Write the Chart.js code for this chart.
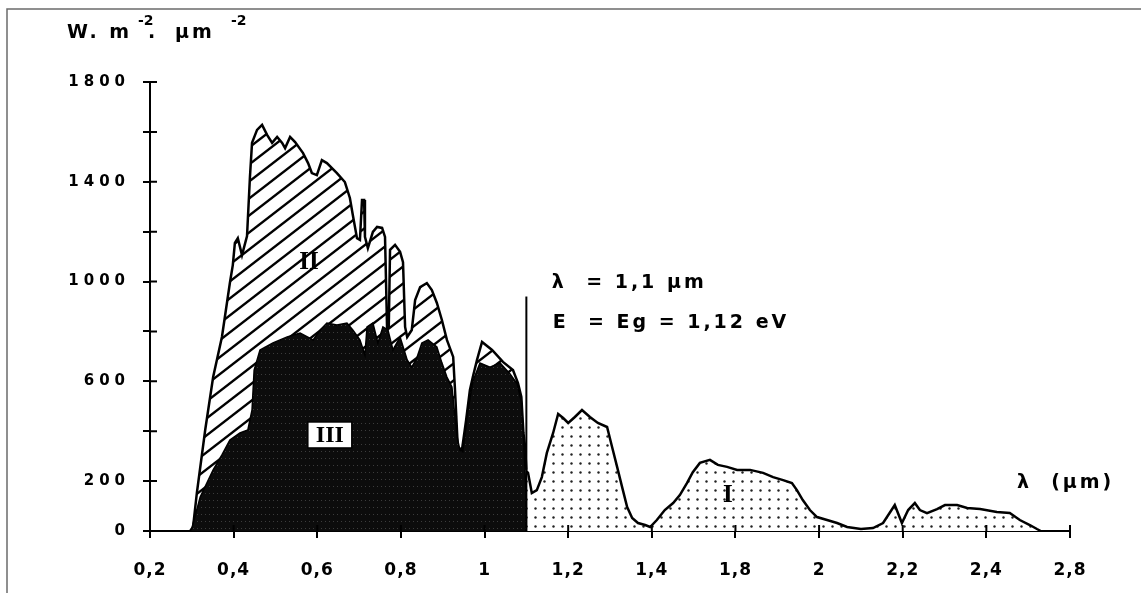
<!DOCTYPE html>
<html>
<head>
<meta charset="utf-8">
<script src="https://cdn.jsdelivr.net/npm/chart.js@4.4.1/dist/chart.umd.min.js"></script>
<style>
html, body { margin: 0; padding: 0; background: #fff; }
#wrap { width: 1141px; height: 599px; }
</style>
</head>
<body>
<div id="wrap"><canvas id="spectre" width="1141" height="599"></canvas></div>
<script>
// tick labels as printed on the figure
const xLabels = ['0,2', '0,4', '0,6', '0,8', '1', '1,2', '1,4', '1,8', '2', '2,2', '2,4', '2,8'];
const yLabelled = [0, 200, 600, 1000, 1400, 1800];

// zone II : spectre, partie hachuree (lambda < 1,1)
const lambdaII = [0.296, 0.303, 0.312, 0.332, 0.351, 0.372, 0.391, 0.398, 0.403, 0.410, 0.420, 0.432, 0.439, 0.444, 0.456, 0.468,
  0.480, 0.492, 0.504, 0.516, 0.523, 0.535, 0.547, 0.566, 0.578, 0.587, 0.599, 0.611, 0.623, 0.647, 0.666, 0.678,
  0.685, 0.695, 0.702, 0.707, 0.712, 0.714, 0.721, 0.733, 0.743, 0.755, 0.762, 0.767, 0.771, 0.774, 0.786, 0.798,
  0.805, 0.810, 0.815, 0.826, 0.834, 0.846, 0.862, 0.874, 0.886, 0.898, 0.910, 0.925, 0.929, 0.936, 0.946, 0.956,
  0.965, 0.972, 0.982, 0.994, 1.018, 1.044, 1.068, 1.080, 1.088, 1.093, 1.097, 1.100];
const fluxII = [0, 16, 152, 405, 617, 778, 994, 1066, 1155, 1174, 1106, 1182, 1419, 1556, 1608, 1628,
  1588, 1556, 1580, 1556, 1535, 1580, 1559, 1515, 1475, 1435, 1427, 1487, 1475, 1435, 1399, 1335,
  1267, 1174, 1167, 1327, 1327, 1179, 1134, 1199, 1219, 1215, 1179, 806, 818, 1127, 1147, 1119,
  1078, 818, 778, 806, 926, 978, 994, 966, 914, 846, 766, 698, 577, 337, 325, 445,
  565, 617, 686, 758, 726, 678, 645, 593, 537, 393, 337, 245];

// zone III : partie utile (noir)
const lambdaIII = [0.296, 0.300, 0.320, 0.351, 0.372, 0.391, 0.415, 0.434, 0.444, 0.449, 0.463, 0.494, 0.528, 0.559, 0.590, 0.607,
  0.623, 0.647, 0.671, 0.685, 0.702, 0.714, 0.719, 0.733, 0.745, 0.757, 0.769, 0.781, 0.798, 0.815, 0.826, 0.838,
  0.850, 0.865, 0.886, 0.898, 0.910, 0.922, 0.934, 0.941, 0.948, 0.960, 0.972, 0.989, 1.013, 1.037, 1.061, 1.078,
  1.088, 1.093, 1.100, 1.100];
const fluxIII = [0, 10, 136, 245, 305, 365, 393, 405, 485, 645, 726, 754, 778, 794, 766, 806,
  834, 826, 834, 806, 766, 706, 818, 834, 754, 818, 806, 726, 778, 686, 657, 694,
  754, 766, 738, 674, 617, 577, 380, 325, 318, 480, 600, 674, 657, 674, 630, 590,
  520, 380, 120, 0];

// zone I : pointilles (lambda > 1,1)
const lambdaI = [1.100, 1.104, 1.113, 1.125, 1.137, 1.149, 1.164, 1.176, 1.188, 1.200, 1.216, 1.233, 1.252, 1.271, 1.293, 1.305,
  1.317, 1.329, 1.341, 1.353, 1.367, 1.384, 1.396, 1.412, 1.431, 1.451, 1.467, 1.484, 1.498, 1.515, 1.539, 1.558,
  1.580, 1.604, 1.635, 1.666, 1.690, 1.714, 1.735, 1.747, 1.761, 1.778, 1.795, 1.819, 1.843, 1.867, 1.900, 1.929,
  1.953, 1.981, 1.998, 2.013, 2.029, 2.041, 2.058, 2.082, 2.101, 2.130, 2.154, 2.185, 2.225, 2.256, 2.280, 2.304,
  2.321, 2.330];
const fluxI = [240, 233, 152, 164, 216, 313, 393, 469, 453, 433, 457, 485, 457, 433, 417, 337,
  257, 176, 96, 52, 32, 24, 16, 44, 84, 112, 144, 192, 236, 273, 285, 265,
  257, 245, 245, 233, 216, 204, 192, 164, 124, 84, 56, 44, 32, 16, 8, 12,
  32, 104, 32, 84, 112, 84, 72, 88, 104, 104, 92, 88, 76, 72, 44, 24,
  8, 0];

// seuil lambda = 1,1 um
const lambdaGap = 1.1;
const gapTop = 940;

function pts(xs, ys) {
  return xs.map(function (x, i) { return { x: x, y: ys[i] }; });
}

const canvas = document.getElementById('spectre');
const ctx = canvas.getContext('2d');

function hatchPattern() {
  const c = document.createElement('canvas');
  c.width = 22; c.height = 17;
  const g = c.getContext('2d');
  g.fillStyle = '#fff';
  g.fillRect(0, 0, 22, 17);
  g.strokeStyle = '#000';
  g.lineWidth = 2.4;
  for (let k = -1; k <= 1; k++) {
    g.beginPath();
    g.moveTo(-4, 17 + 4 * 17 / 22 + 17 * k);
    g.lineTo(26, 17 - 26 * 17 / 22 + 17 * k);
    g.stroke();
  }
  return ctx.createPattern(c, 'repeat');
}

function dotPattern() {
  const c = document.createElement('canvas');
  c.width = 9; c.height = 9;
  const g = c.getContext('2d');
  g.fillStyle = '#fff';
  g.fillRect(0, 0, 9, 9);
  g.fillStyle = '#222';
  g.beginPath();
  g.arc(4.5, 4.5, 1.2, 0, Math.PI * 2);
  g.fill();
  return ctx.createPattern(c, 'repeat');
}

function blackPattern() {
  const c = document.createElement('canvas');
  c.width = 4; c.height = 7;
  const g = c.getContext('2d');
  g.fillStyle = '#0c0c0c';
  g.fillRect(0, 0, 4, 7);
  g.fillStyle = '#3c3c3c';
  g.fillRect(1, 3, 1, 1);
  return ctx.createPattern(c, 'repeat');
}

function spaced(scale, ls) {
  if (scale._spaced) return;
  const orig = scale.drawLabels;
  scale.drawLabels = function (area) {
    const c = this.ctx;
    c.save();
    c.letterSpacing = ls;
    orig.call(this, area);
    c.restore();
  };
  scale._spaced = true;
}

const decor = {
  id: 'decor',
  beforeDraw(chart) {
    const c = chart.ctx;
    c.save();
    c.fillStyle = '#fff';
    c.fillRect(0, 0, chart.width, chart.height);
    c.strokeStyle = '#6b6b6b';
    c.lineWidth = 1.5;
    c.beginPath();
    c.moveTo(7, 593);
    c.lineTo(7, 9);
    c.lineTo(chart.width, 9);
    c.stroke();
    c.restore();
    spaced(chart.scales.y, '5px');
    spaced(chart.scales.x, '1px');
  },
  afterDraw(chart) {
    const c = chart.ctx;
    const xs = chart.scales.x, ys = chart.scales.y;
    const area = chart.chartArea;
    c.save();
    // inner half of the crossing ticks
    c.strokeStyle = '#000';
    c.lineWidth = 2;
    c.beginPath();
    xs.ticks.forEach(function (t) {
      const px = xs.getPixelForValue(t.value);
      c.moveTo(px, area.bottom);
      c.lineTo(px, area.bottom - 6);
    });
    ys.ticks.forEach(function (t) {
      const py = ys.getPixelForValue(t.value);
      c.moveTo(area.left, py);
      c.lineTo(area.left + 7, py);
    });
    c.stroke();

    c.fillStyle = '#000';
    c.textBaseline = 'alphabetic';
    c.textAlign = 'left';
    const big = 'bold 19px "DejaVu Sans"';
    const sup = 'bold 14px "DejaVu Sans"';
    // unit
    c.letterSpacing = '3px';
    c.font = big;
    c.fillText('W. m', 67, 38);
    c.fillText('.', 148, 38);
    c.fillText('μm', 175, 38);
    c.letterSpacing = '0px';
    c.font = sup;
    c.fillText('-2', 138, 25);
    c.fillText('-2', 231, 25);

    // annotations
    c.letterSpacing = '3px';
    c.font = big;
    c.textBaseline = 'middle';
    c.fillText('λ  = 1,1 μm', xs.getPixelForValue(1.161), ys.getPixelForValue(994));
    c.fillText('E  = Eg = 1,12 eV', xs.getPixelForValue(1.163), ys.getPixelForValue(834));
    c.fillText('λ  (μm)', xs.getPixelForValue(2.273), ys.getPixelForValue(192));

    // zone names
    c.letterSpacing = '0px';
    c.textAlign = 'center';
    c.font = 'bold 25px "Liberation Serif"';
    c.fillText('II', xs.getPixelForValue(0.580), ys.getPixelForValue(1078));
    c.fillText('I', xs.getPixelForValue(1.582), ys.getPixelForValue(144));
    const bx = xs.getPixelForValue(0.630), by = ys.getPixelForValue(385);
    c.fillStyle = '#fff';
    c.fillRect(bx - 22, by - 13, 44, 26);
    c.strokeStyle = '#000';
    c.lineWidth = 1.5;
    c.strokeRect(bx - 22, by - 13, 44, 26);
    c.fillStyle = '#000';
    c.font = 'bold 24px "Liberation Serif"';
    c.fillText('III', bx, by + 1);
    c.restore();
  }
};

const tickFont = { family: 'DejaVu Sans', weight: 'bold' };

new Chart(ctx, {
  type: 'line',
  data: {
    datasets: [
      {
        label: 'III',
        data: pts(lambdaIII, fluxIII),
        fill: 'origin',
        backgroundColor: blackPattern(),
        borderColor: '#000',
        borderWidth: 1.5,
        order: 1
      },
      {
        label: 'seuil',
        data: [{ x: lambdaGap, y: 0 }, { x: lambdaGap, y: gapTop }],
        fill: false,
        borderColor: '#000',
        borderWidth: 2,
        order: 0
      },
      {
        label: 'II',
        data: pts(lambdaII, fluxII),
        fill: 'origin',
        backgroundColor: hatchPattern(),
        borderColor: '#000',
        borderWidth: 2.5,
        order: 2
      },
      {
        label: 'I',
        data: pts(lambdaI, fluxI),
        fill: 'origin',
        backgroundColor: dotPattern(),
        borderColor: '#000',
        borderWidth: 2.5,
        order: 2
      }
    ]
  },
  options: {
    responsive: false,
    animation: false,
    devicePixelRatio: 1,
    layout: { padding: { top: 82, right: 71, left: 0, bottom: 0 } },
    elements: { point: { radius: 0 }, line: { tension: 0 } },
    plugins: { legend: { display: false }, tooltip: { enabled: false } },
    scales: {
      x: {
        type: 'linear',
        min: 0.2,
        max: 2.4,
        afterFit: function (s) { s.height = 68; },
        ticks: {
          stepSize: 0.2,
          autoSkip: false,
          maxRotation: 0,
          padding: 22,
          color: '#000',
          font: Object.assign({ size: 17 }, tickFont),
          callback: function (v, i) { return xLabels[i]; }
        },
        grid: { drawOnChartArea: false, tickLength: 7, color: '#000', lineWidth: 2 },
        border: { color: '#000', width: 2 }
      },
      y: {
        min: 0,
        max: 1800,
        afterFit: function (s) { s.width = 150; },
        ticks: {
          stepSize: 200,
          padding: 13,
          color: '#000',
          font: Object.assign({ size: 15 }, tickFont),
          callback: function (v) { return yLabelled.indexOf(v) >= 0 ? String(v) : ''; }
        },
        grid: { drawOnChartArea: false, tickLength: 7, color: '#000', lineWidth: 2 },
        border: { color: '#000', width: 2 }
      }
    }
  },
  plugins: [decor]
});
</script>
</body>
</html>
